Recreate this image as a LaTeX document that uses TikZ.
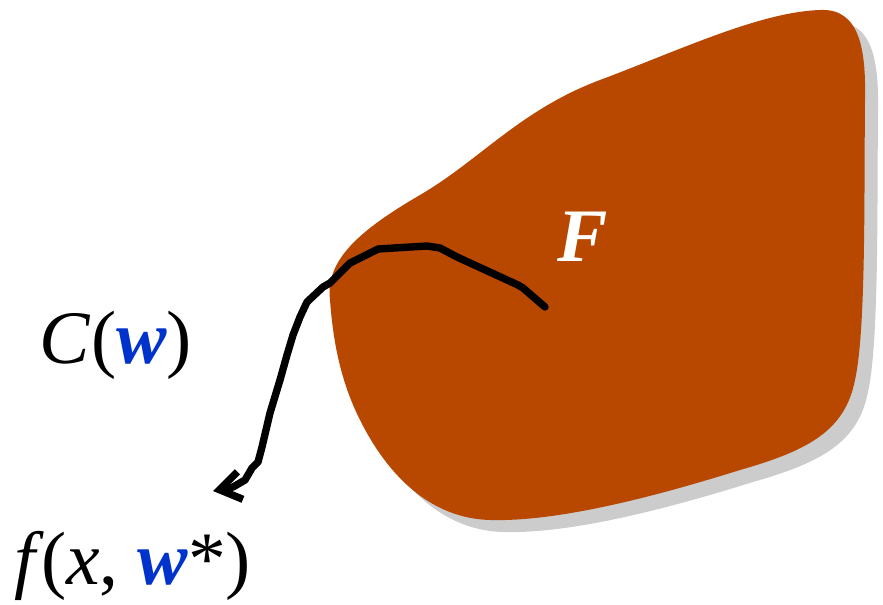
\documentclass[tikz,border=0pt]{standalone}
\usepackage{fontspec}
\setmainfont{Liberation Serif}
\usetikzlibrary{arrows.meta}
\definecolor{blobfill}{HTML}{B84700}
\definecolor{shadowgray}{HTML}{CCCCCC}
\definecolor{wblue}{HTML}{0033CC}
\newcommand{\wvec}{\textcolor{wblue}{\textbf{\textit{w}}}}
\newcommand{\blobpath}{(330,300) .. controls (325,260) and (360,230) .. (420,195)
  .. controls (480,160) and (520,110) .. (600,80)
  .. controls (680,50) and (760,12) .. (820,10)
  .. controls (860,8) and (866,50) .. (865,100)
  .. controls (864,200) and (866,330) .. (855,380)
  .. controls (845,430) and (810,450) .. (740,470)
  .. controls (660,495) and (560,522) .. (490,520)
  .. controls (420,518) and (380,460) .. (360,420)
  .. controls (340,380) and (333,340) .. (330,300) -- cycle}

\begin{document}
\begin{tikzpicture}[x=0.02cm,y=-0.02cm,
   lbl/.style={font=\fontsize{43}{50}\selectfont},
   wander/.style={line width=4.2pt,line join=round,line cap=round,
     -{Straight Barb[length=12pt,width=16pt]}}]
  \useasboundingbox (0,0) rectangle (883,605);
  % set F with its shadow
  \fill[shadowgray,shift={(13,12)}] \blobpath;
  \fill[blobfill] \blobpath;
  \node[lbl,white,font=\fontsize{43}{50}\selectfont\bfseries\itshape] (F) at (583,237) {F};
  \node[lbl] (C) at (116,345) {\textit{C}(\wvec)};
  \node[lbl] (fx) at (133,566) {\textit{f}\kern-2pt(\textit{x}, \wvec*)};
  % path leaving F
  \coordinate (start) at (545,307);
  \coordinate (tip) at (213,491);
  \draw[wander] (start) -- (523,288) -- (518,285) -- (457,257) -- (440,248)
    -- (427,246) -- (378,249) -- (350,263) -- (330,283) -- (323,287)
    -- (307,302) -- (300,317) -- (293,335) -- (287,355) -- (280,380)
    -- (270,413) -- (262,447) -- (258,462) -- (252,468) -- (245,480)
    -- (233,487) -- (tip);
\end{tikzpicture}
\end{document}
